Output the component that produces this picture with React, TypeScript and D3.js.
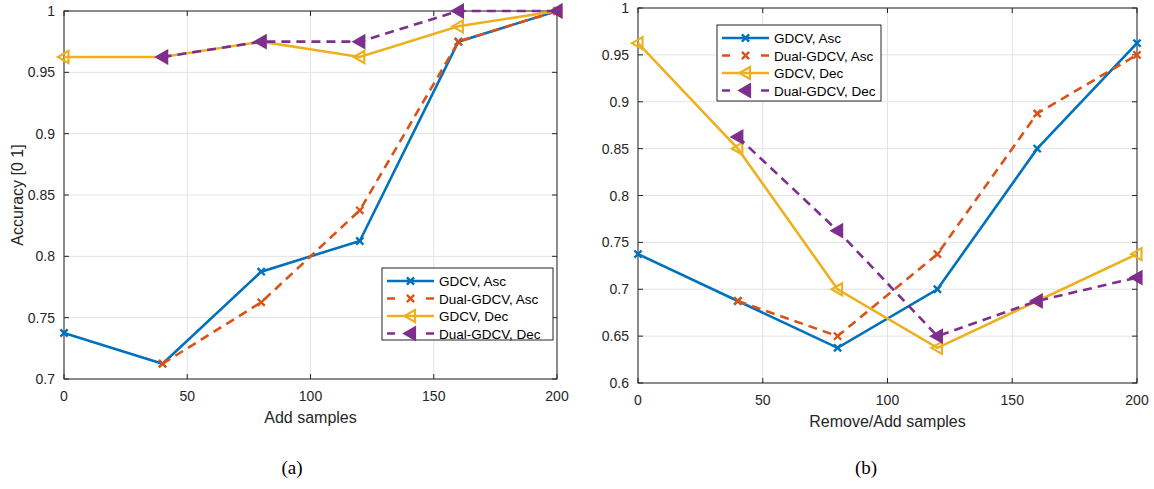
import React from "react";
import * as d3 from "d3";

const xs = [0, 40, 80, 120, 160, 200];
const xsDual = [40, 80, 120, 160, 200];

// Plot (a)
const aGdcvAsc = [0.7375, 0.7125, 0.7875, 0.8125, 0.975, 1.0];
const aDualAsc = [0.7125, 0.7625, 0.8375, 0.975, 1.0];
const aGdcvDec = [0.9625, 0.9625, 0.975, 0.9625, 0.9875, 1.0];
const aDualDec = [0.9625, 0.975, 0.975, 1.0, 1.0];

// Plot (b)
const bGdcvAsc = [0.7375, 0.6875, 0.6375, 0.7, 0.85, 0.9625];
const bDualAsc = [0.6875, 0.65, 0.7375, 0.8875, 0.95];
const bGdcvDec = [0.9625, 0.85, 0.7, 0.6375, 0.6875, 0.7375];
const bDualDec = [0.8625, 0.7625, 0.65, 0.6875, 0.7125];

const xTicks = [0, 50, 100, 150, 200];
const aYTicks = [0.7, 0.75, 0.8, 0.85, 0.9, 0.95, 1];
const bYTicks = [0.6, 0.65, 0.7, 0.75, 0.8, 0.85, 0.9, 0.95, 1];

const seriesNames = ["GDCV, Asc", "Dual-GDCV, Asc", "GDCV, Dec", "Dual-GDCV, Dec"];
const colors = ["#0072BD", "#D95319", "#EDB120", "#7E2F8E"];
const dashes = [null, "9,6", null, "9,6"];
const markers = ["x", "x", "tri", "tri"];

const AXC = "#262626";
const FONT = "'Liberation Sans', Arial, Helvetica, sans-serif";

function Marker({ type, x, y, color, fill }: any) {
  if (type === "x") {
    const s = 3.6;
    return (
      <path
        d={`M${x - s},${y - s}L${x + s},${y + s}M${x - s},${y + s}L${x + s},${y - s}`}
        stroke={color}
        strokeWidth={2.4}
        fill="none"
      />
    );
  }
  const r = 6;
  return (
    <path
      d={`M${x - r},${y}L${x + r * 0.75},${y - r}L${x + r * 0.75},${y + r}Z`}
      stroke={color}
      strokeWidth={2.2}
      fill={fill ? color : "none"}
    />
  );
}

function Plot({ left, right, top, bottom, yDomain, yTicks, series, xLabel, yLabel, legend, caption, captionX }: any) {
  const x = d3.scaleLinear().domain([0, 200]).range([left, right]);
  const y = d3.scaleLinear().domain(yDomain).range([bottom, top]);
  const tl = 5;
  return (
    <g fontFamily={FONT}>
      {xTicks.map((t) => (
        <line key={"gx" + t} x1={x(t)} x2={x(t)} y1={top} y2={bottom} stroke="#e3e3e3" strokeWidth={1} />
      ))}
      {yTicks.map((t: number) => (
        <line key={"gy" + t} x1={left} x2={right} y1={y(t)} y2={y(t)} stroke="#e3e3e3" strokeWidth={1} />
      ))}
      <rect x={left} y={top} width={right - left} height={bottom - top} fill="none" stroke={AXC} strokeWidth={1} />
      {xTicks.map((t) => (
        <g key={"tx" + t}>
          <line x1={x(t)} x2={x(t)} y1={bottom} y2={bottom - tl} stroke={AXC} />
          <line x1={x(t)} x2={x(t)} y1={top} y2={top + tl} stroke={AXC} />
          <text x={x(t)} y={bottom + 22} textAnchor="middle" fontSize={14} fill={AXC}>
            {t}
          </text>
        </g>
      ))}
      {yTicks.map((t: number) => (
        <g key={"ty" + t}>
          <line x1={left} x2={left + tl} y1={y(t)} y2={y(t)} stroke={AXC} />
          <line x1={right} x2={right - tl} y1={y(t)} y2={y(t)} stroke={AXC} />
          <text x={left - 9} y={y(t) + 5} textAnchor="end" fontSize={14} fill={AXC}>
            {d3.format("")(t)}
          </text>
        </g>
      ))}
      {series.map((s: any, i: number) => {
        const line = d3
          .line<number>()
          .x((_, j) => x(s.xs[j]))
          .y((v) => y(v));
        return (
          <g key={i}>
            <path d={line(s.ys) || ""} fill="none" stroke={colors[i]} strokeWidth={2.6} strokeDasharray={dashes[i] || undefined} />
            {s.ys.map((v: number, j: number) => (
              <Marker key={j} type={markers[i]} x={x(s.xs[j])} y={y(v)} color={colors[i]} fill={i === 3} />
            ))}
          </g>
        );
      })}
      <text x={(left + right) / 2} y={bottom + 44} textAnchor="middle" fontSize={16} fill={AXC}>
        {xLabel}
      </text>
      {yLabel && (
        <text transform={`translate(${left - 41},${(top + bottom) / 2}) rotate(-90)`} textAnchor="middle" fontSize={16} fill={AXC}>
          {yLabel}
        </text>
      )}
      <g>
        <rect x={legend.x} y={legend.y} width={legend.w} height={legend.h} fill="white" stroke={AXC} strokeWidth={1} />
        {seriesNames.map((n, i) => {
          const ly = legend.y + 13 + i * 17.5;
          const lx1 = legend.x + 5;
          const lx2 = legend.x + 52;
          return (
            <g key={n}>
              <line x1={lx1} x2={lx2} y1={ly} y2={ly} stroke={colors[i]} strokeWidth={2.6} strokeDasharray={dashes[i] ? "8,31" : undefined} />
              <Marker type={markers[i]} x={(lx1 + lx2) / 2} y={ly} color={colors[i]} fill={i === 3} />
              <text x={legend.x + 57} y={ly + 5} fontSize={13.5} fill="#000">
                {n}
              </text>
            </g>
          );
        })}
      </g>
      <text x={captionX} y={474} textAnchor="middle" fontSize={19} fontFamily="'Liberation Serif', 'Times New Roman', serif" fill="#000">
        {caption}
      </text>
    </g>
  );
}

export default function App() {
  return (
    <svg width={1154} height={489} style={{ position: "absolute", left: 0, top: 0, background: "white" }}>
      <Plot
        left={64}
        right={557}
        top={11}
        bottom={379}
        yDomain={[0.7, 1]}
        yTicks={aYTicks}
        series={[
          { xs, ys: aGdcvAsc },
          { xs: xsDual, ys: aDualAsc },
          { xs, ys: aGdcvDec },
          { xs: xsDual, ys: aDualDec },
        ]}
        xLabel="Add samples"
        yLabel="Accuracy [0 1]"
        legend={{ x: 382, y: 268, w: 171, h: 72 }}
        caption="(a)"
        captionX={292}
      />
      <Plot
        left={638}
        right={1137}
        top={8}
        bottom={383}
        yDomain={[0.6, 1]}
        yTicks={bYTicks}
        series={[
          { xs, ys: bGdcvAsc },
          { xs: xsDual, ys: bDualAsc },
          { xs, ys: bGdcvDec },
          { xs: xsDual, ys: bDualDec },
        ]}
        xLabel="Remove/Add samples"
        yLabel={null}
        legend={{ x: 717, y: 25, w: 164, h: 76 }}
        caption="(b)"
        captionX={866}
      />
    </svg>
  );
}
